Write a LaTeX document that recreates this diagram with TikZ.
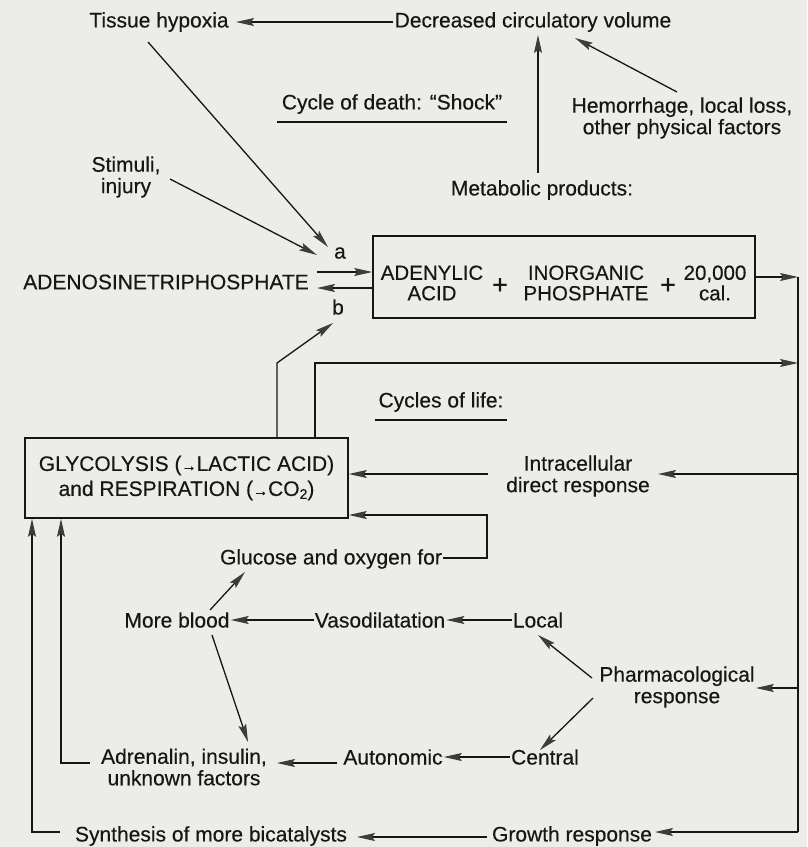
\documentclass[tikz,border=0pt]{standalone}
\usepackage{fontspec}
\setmainfont{Liberation Sans}[FakeBold=0.3]
\usetikzlibrary{arrows.meta}
\definecolor{paper}{RGB}{236,236,232}
\definecolor{ink}{RGB}{22,22,22}
\definecolor{headc}{RGB}{60,60,60}
\tikzset{
  lbl/.style={inner sep=1pt, align=center, text=ink, font=\fontsize{21}{21.5}\selectfont},
  tight/.style={font=\fontsize{20.5}{20.5}\selectfont},
  plus/.style={inner sep=0pt, text=ink, font=\fontsize{27}{27}\selectfont},
  arr/.style={draw=ink, line width=1.3pt, -{Stealth[length=18pt,width=8pt,inset=3pt,color=headc]}},
  ln/.style={draw=ink, line width=1.3pt},
  boxst/.style={draw=ink, line width=1.6pt, inner sep=0pt},
}
\begin{document}
\begin{tikzpicture}[x=1pt,y=-1pt]
\useasboundingbox (0,0) rectangle (807,847);
\fill[paper] (0,0) rectangle (807,847);

% ---- nodes
\node[lbl] (hyp) at (159,22) {Tissue hypoxia};
\node[lbl] (dcv) at (533,22) {Decreased circulatory volume};
\node[lbl] (cod) at (392,104) {Cycle of death: “Shock”};
\node[lbl] (hem) at (682,118) {Hemorrhage, local loss,\\other physical factors};
\node[lbl] (met) at (542,190) {Metabolic products:};
\node[lbl] (stim) at (126,177) {Stimuli,\\injury};
\node[lbl] (atp) at (166,282) {ADENOSINETRIPHOSPHATE};
\node[lbl] (la) at (340,253) {a};
\node[lbl] (lb) at (338,307) {b};
\node[boxst, minimum width=382, minimum height=82] (adbox) at (564,277) {};
\node[lbl, tight] (ad1) at (432,283) {ADENYLIC\\ACID};
\node[plus] (p1) at (500,286) {+};
\node[lbl, tight] (ip) at (586,283) {INORGANIC\\PHOSPHATE};
\node[plus] (p2) at (668,286) {+};
\node[lbl, tight] (cal) at (715,283) {20,000\\cal.};
\node[lbl] (col) at (441,402) {Cycles of life:};
\node[boxst, minimum width=323, minimum height=80, align=center, text=ink,
      font=\fontsize{21}{25}\selectfont] (gly) at (186.5,478)
      {GLYCOLYSIS ({\fontsize{15}{15}\selectfont →}LACTIC ACID)\\and RESPIRATION ({\fontsize{15}{15}\selectfont →}CO\raisebox{-3pt}{\fontsize{14}{14}\selectfont 2})};
\node[lbl] (intra) at (578,476) {Intracellular\\direct response};
\node[lbl] (glu) at (331,559) {Glucose and oxygen for};
\node[lbl] (mb) at (177,620) {More blood};
\node[lbl] (vaso) at (380,620) {Vasodilatation};
\node[lbl] (loc) at (538,620) {Local};
\node[lbl] (pharm) at (677,687) {Pharmacological\\response};
\node[lbl] (cen) at (545,757) {Central};
\node[lbl] (auto) at (393,757) {Autonomic};
\node[lbl] (adr) at (184,767) {Adrenalin, insulin,\\unknown factors};
\node[lbl] (syn) at (211,836) {Synthesis of more bicatalysts};
\node[lbl] (grow) at (572,836) {Growth response};

% ---- underlines
\draw[ln] (277,122) -- (507,122);
\draw[ln] (375,420) -- (507,420);

% ---- coordinates
\coordinate (rtop) at (798,277);
\coordinate (rbot) at (798,832);
\coordinate (hemo) at (677,92);
\coordinate (dcvi) at (575,38);
\coordinate (hypo) at (148,42);
\coordinate (ai1) at (328,247);
\coordinate (stimo) at (170,179);
\coordinate (ai2) at (317,255);
\coordinate (bi) at (333,323);
\coordinate (mbo1) at (210,610);
\coordinate (glui) at (245,572);
\coordinate (mbo2) at (212,635);
\coordinate (adri) at (248,742);
\coordinate (pho1) at (592,678);
\coordinate (loci) at (538,635);
\coordinate (pho2) at (593,698);
\coordinate (ceni) at (540,750);

% ---- top cycle
\draw[arr] (dcv.west) -- (236,22);
\draw[arr] (met.north -| 538,0) ++(0,-6) -- (538,35);
\draw[arr] (hemo) -- (dcvi);
\draw[arr] (hypo) -- (ai1);
\draw[arr] (stimo) -- (ai2);
\draw[arr] (317,272) -- (adbox.west |- 0,272);
\draw[arr] (adbox.west |- 0,288) -- (317,288);

% ---- right bus
\draw[ln] (rtop) -- (rbot);
\draw[arr] (adbox.east |- rtop) -- (rtop);
\draw[arr] (gly.north -| 315,0) -- (315,363) -- (rtop |- 0,363);
\draw[arr] (gly.north -| 277,0) -- (277,363) -- (bi);

% ---- responses
\draw[arr] (rtop |- 0,474) -- (658,474);
\draw[arr] (488,474) -- (gly.east |- 0,474);
\draw[arr] (glu.east |- 0,558) -- (487,558) -- (487,515) -- (gly.east |- 0,515);
\draw[arr] (vaso.west) -- (mb.east);
\draw[arr] (loc.west) -- (vaso.east);
\draw[arr] (mbo1) -- (glui);
\draw[arr] (mbo2) -- (adri);
\draw[arr] (rtop |- 0,688) -- (pharm.east |- 0,688);
\draw[arr] (pho1) -- (loci);
\draw[arr] (pho2) -- (ceni);
\draw[arr] (cen.west) -- (auto.east);
\draw[arr] (337,763) -- (277,763);
\draw[arr] (rbot) -- (655,832);
\draw[arr] (487,837) -- (357,837);
\draw[arr] (60,832) -- (32,832) -- (gly.south -| 32,0);
\draw[arr] (90,763) -- (61,763) -- (gly.south -| 61,0);
\end{tikzpicture}
\end{document}
